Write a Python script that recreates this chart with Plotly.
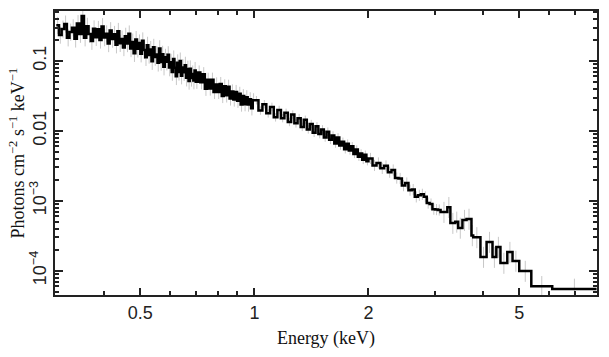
import plotly.graph_objects as go
import math

# ---- data: bin lower edges (keV) and unfolded flux (photons cm^-2 s^-1 keV^-1) ----
fine_lo = [0.300, 0.305, 0.310, 0.315, 0.320, 0.325, 0.330, 0.335, 0.340, 0.345,
           0.350, 0.355, 0.360, 0.365, 0.370, 0.375, 0.380, 0.385, 0.390, 0.395,
           0.400, 0.405, 0.410, 0.415, 0.420, 0.425, 0.430, 0.435, 0.440, 0.445,
           0.450, 0.455, 0.460, 0.465, 0.470, 0.475, 0.480, 0.485, 0.490, 0.495,
           0.500, 0.505, 0.510, 0.515, 0.520, 0.525, 0.530, 0.535, 0.540, 0.545,
           0.550, 0.555, 0.560, 0.565, 0.570, 0.575, 0.580, 0.585, 0.590, 0.595,
           0.600, 0.605, 0.610, 0.615, 0.620, 0.625, 0.630, 0.635, 0.640, 0.645,
           0.650, 0.655, 0.660, 0.665, 0.670, 0.675, 0.680, 0.685, 0.690, 0.695]
fine_flux = [0.324, 0.235, 0.286, 0.338, 0.215, 0.259, 0.298, 0.207, 0.343, 0.242,
             0.44, 0.215, 0.314, 0.242, 0.192, 0.288, 0.218, 0.283, 0.200, 0.310,
             0.216, 0.245, 0.178, 0.272, 0.206, 0.240, 0.171, 0.265, 0.179, 0.206,
             0.156, 0.226, 0.178, 0.244, 0.151, 0.187, 0.129, 0.203, 0.149, 0.181,
             0.127, 0.194, 0.143, 0.113, 0.168, 0.122, 0.146, 0.0992, 0.157, 0.114,
             0.124, 0.094, 0.150, 0.0968, 0.125, 0.0828, 0.113, 0.0974, 0.123, 0.0804,
             0.096, 0.0692, 0.107, 0.0797, 0.0602, 0.0941, 0.0697, 0.100, 0.0616, 0.0806,
             0.0688, 0.087, 0.0575, 0.0765, 0.0517, 0.0771, 0.0572, 0.0653, 0.0523, 0.0732]

soft_lo = [0.70, 0.71, 0.72, 0.73, 0.74, 0.75, 0.76, 0.77, 0.78, 0.79,
           0.80, 0.81, 0.82, 0.83, 0.84, 0.85, 0.86, 0.87, 0.88, 0.89,
           0.90, 0.91, 0.92, 0.93, 0.94, 0.95, 0.96, 0.97, 0.98, 0.99]
soft_flux = [0.0504, 0.0684, 0.0495, 0.0647, 0.040, 0.0538, 0.0404, 0.054, 0.0361, 0.0462,
             0.0361, 0.0468, 0.0316, 0.0433, 0.0322, 0.0428, 0.0291, 0.0367, 0.0281, 0.036,
             0.027, 0.0339, 0.0238, 0.0314, 0.0241, 0.0303, 0.0238, 0.0283, 0.021, 0.0274]

mid_lo = [1.000, 1.025, 1.050, 1.075, 1.100, 1.125, 1.150, 1.175, 1.200, 1.225,
          1.250, 1.275, 1.300, 1.325, 1.350, 1.375, 1.400, 1.425, 1.450, 1.475,
          1.500, 1.525, 1.550, 1.575, 1.600, 1.625, 1.650, 1.675, 1.700, 1.725,
          1.750, 1.775, 1.800, 1.825, 1.850, 1.875, 1.900, 1.925, 1.950, 1.975]
mid_flux = [0.0274, 0.0195, 0.0240, 0.0178, 0.0220, 0.0156, 0.0199, 0.0152, 0.0181, 0.0134,
            0.0171, 0.0128, 0.0152, 0.0114, 0.0144, 0.0105, 0.0125, 0.00937, 0.0116, 0.0090,
            0.0105, 0.00803, 0.00973, 0.00744, 0.00858, 0.0066, 0.00806, 0.00618, 0.00698, 0.00546,
            0.00655, 0.00525, 0.00603, 0.00468, 0.0054, 0.00427, 0.00474, 0.00385, 0.00455, 0.00369]

hard_lo = [2.00, 2.05, 2.10, 2.15, 2.20, 2.25, 2.30, 2.35, 2.40, 2.45, 2.50,
           2.55, 2.60, 2.65, 2.70, 2.75, 2.80, 2.85, 2.90, 2.95, 3.00, 3.05]
hard_flux = [0.00404, 0.00321, 0.00348, 0.00291, 0.00316, 0.00257, 0.00276, 0.00212, 0.00209, 0.00165, 0.00180,
             0.00142, 0.00145, 0.00114, 0.00120, 0.00124, 0.00114, 0.00093, 0.00090, 0.00076, 0.00075, 0.00074]

tail_lo = [3.10, 3.23, 3.29, 3.39, 3.45, 3.54, 3.63, 3.74, 3.78, 3.95,
           4.10, 4.25, 4.35, 4.46, 4.65, 4.80, 5.00, 5.38, 6.11]
tail_flux = [6.9e-4, 8.1e-4, 4.8e-4, 5.0e-4, 4.1e-4, 5.3e-4, 5.5e-4, 3.2e-4, 3.0e-4, 1.57e-4,
             2.57e-4, 1.57e-4, 2.18e-4, 1.29e-4, 1.85e-4, 1.38e-4, 9.9e-5, 6.0e-5, 5.5e-5]
last_edge = 8.0

# fractional 1-sigma error sizes per section (up, down)
fine_err = (0.32, 0.25)
soft_err = (0.26, 0.21)
mid_err = (0.15, 0.13)
hard_err = (0.20, 0.17)
tail_err = (0.40, 0.30)

x_ticks = [0.5, 1, 2, 5]
x_ticktext = ["0.5", "1", "2", "5"]
x_minor = [0.4, 0.6, 0.7, 0.8, 0.9, 3, 4, 6, 7]
y_ticks = [1e-4, 1e-3, 1e-2, 1e-1]
y_ticktext = ["10<sup>\u22124</sup>", "10<sup>\u22123</sup>", "0.01", "0.1"]
y_minor = [m * d for d in (1e-5, 1e-4, 1e-3, 1e-2, 1e-1) for m in range(2, 10)]
x_title = "Energy (keV)"
y_title = "Photons cm<sup>\u22122</sup> s<sup>\u22121</sup> keV<sup>\u22121</sup>"

# ---- assemble ----
lo = fine_lo + soft_lo + mid_lo + hard_lo + tail_lo
flux = fine_flux + soft_flux + mid_flux + hard_flux + tail_flux
hi = lo[1:] + [last_edge]
fracs = ([fine_err] * len(fine_lo) + [soft_err] * len(soft_lo) + [mid_err] * len(mid_lo)
         + [hard_err] * len(hard_lo) + [tail_err] * len(tail_lo))
centres = [math.sqrt(a * b) for a, b in zip(lo, hi)]
err_up = [v * f[0] for v, f in zip(flux, fracs)]
err_dn = [v * f[1] for v, f in zip(flux, fracs)]

fig = go.Figure()
fig.add_trace(go.Scatter(
    x=centres, y=flux, mode="markers",
    marker=dict(size=1, color="rgba(0,0,0,0)"),
    error_y=dict(type="data", array=err_up, arrayminus=err_dn, symmetric=False,
                 color="#c8c8c8", thickness=1, width=0),
    hoverinfo="skip", showlegend=False))
fig.add_trace(go.Scatter(
    x=lo + [last_edge], y=flux + [flux[-1]], mode="lines",
    line=dict(shape="hv", color="black", width=2.5),
    showlegend=False))

tick_font = dict(family="Liberation Sans, Arial, sans-serif", size=18, color="#222")
title_font = dict(family="Liberation Serif, Times New Roman, serif", size=18, color="#111")

fig.update_xaxes(
    type="log", range=[math.log10(0.2977), math.log10(8.02)], automargin=False,
    tickmode="array", tickvals=x_ticks, ticktext=x_ticktext,
    ticks="inside", ticklen=7, tickwidth=1.5, tickcolor="#222",
    minor=dict(tickmode="array", tickvals=x_minor, ticks="inside", ticklen=4,
               tickwidth=1.5, tickcolor="#222", showgrid=False),
    showline=True, linewidth=2, linecolor="#222", mirror="allticks",
    showgrid=False, zeroline=False, tickfont=tick_font,
    title=dict(text=x_title, font=title_font, standoff=10))
fig.update_yaxes(
    type="log", range=[-4.347, -0.286], automargin=False,
    tickmode="array", tickvals=y_ticks, ticktext=y_ticktext, tickangle=-90,
    ticks="inside", ticklen=8, tickwidth=1.5, tickcolor="#222",
    minor=dict(tickmode="array", tickvals=y_minor, ticks="inside", ticklen=4,
               tickwidth=1.5, tickcolor="#222", showgrid=False),
    showline=True, linewidth=2, linecolor="#222", mirror="allticks",
    showgrid=False, zeroline=False, tickfont=tick_font)

fig.add_annotation(
    text=y_title, xref="paper", yref="paper", x=-0.071, y=0.5,
    xanchor="center", yanchor="middle", textangle=-90, showarrow=False,
    font=title_font)

fig.update_layout(
    width=609, height=357,
    margin=dict(l=55, r=12, t=11, b=62),
    plot_bgcolor="white", paper_bgcolor="white",
    showlegend=False)

fig.write_html("out.html", config={"displayModeBar": False},
               post_script="document.body.style.margin='0';")
